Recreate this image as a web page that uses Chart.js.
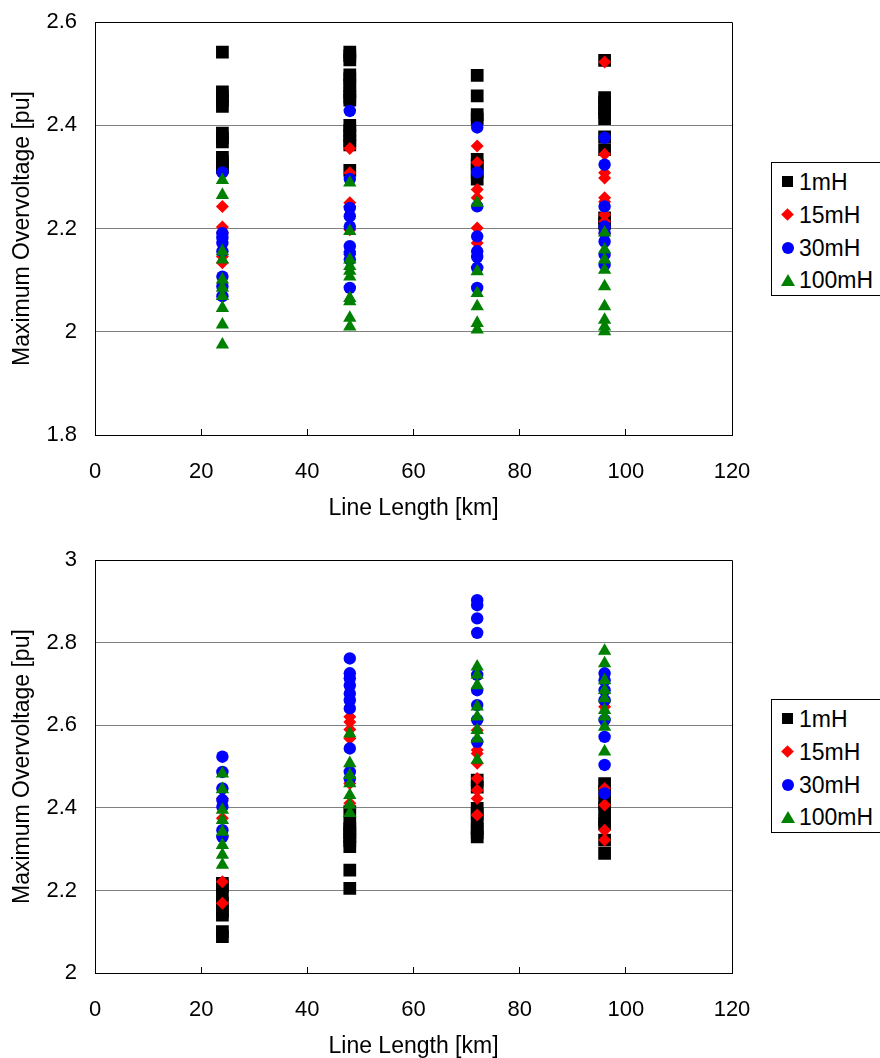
<!DOCTYPE html>
<html>
<head>
<meta charset="utf-8">
<script src="https://cdn.jsdelivr.net/npm/chart.js@4.4.1/dist/chart.umd.min.js"></script>
<style>
  html, body { margin: 0; padding: 0; background: #fff; }
  body { width: 880px; height: 1058px; position: relative; overflow: hidden; font-family: 'Liberation Sans', Arial, sans-serif; }
  .panel { position: absolute; left: 0; width: 880px; height: 531px; }
  .legend { position: absolute; left: 771px; width: 120px; height: 134px; border: 1px solid #000; background: #fff; box-sizing: border-box; }
  .legend .item { position: absolute; left: 0; height: 26px; line-height: 26px; font-size: 23px; color: #000; }
  .legend .item span.txt { position: absolute; left: 27px; top: 0; white-space: nowrap; }
  .mk { position: absolute; }
  .mk.sq { left: 10px; top: 7px; width: 11px; height: 11px; background: #000; }
  .mk.di { left: 11px; top: 8px; width: 9px; height: 9px; background: #f00; transform: rotate(45deg); }
  .mk.ci { left: 10px; top: 7px; width: 12px; height: 12px; background: #00f; border-radius: 50%; }
  .mk.tr { left: 9px; top: 7px; width: 0; height: 0; border-left: 7px solid transparent; border-right: 7px solid transparent; border-bottom: 12px solid #008000; }
</style>
</head>
<body>
<div class="panel" style="top:-9px"><canvas id="topChart" width="880" height="531"></canvas></div>
<div class="panel" style="top:529px"><canvas id="bottomChart" width="880" height="531"></canvas></div>
<div class="legend" id="legendTop" style="top:162px"></div>
<div class="legend" id="legendBottom" style="top:699px"></div>
<script>
// Line lengths where each run was done [km]
const lengths = [24, 48, 72, 96];
const seriesNames = ['1mH', '15mH', '30mH', '100mH'];
const xTicks = [0, 20, 40, 60, 80, 100, 120];
const topYTicks = [1.8, 2.0, 2.2, 2.4, 2.6];
const bottomYTicks = [2.0, 2.2, 2.4, 2.6, 2.8, 3.0];

// Upper chart: max overvoltage per line length (one inner list per length)
const top1mH = [
  [2.542, 2.465, 2.457, 2.448, 2.437, 2.385, 2.376, 2.368, 2.338, 2.330, 2.322, 2.318],
  [2.542, 2.535, 2.527, 2.498, 2.490, 2.477, 2.465, 2.455, 2.449, 2.400, 2.390, 2.380, 2.370, 2.362, 2.313],
  [2.497, 2.457, 2.421, 2.412, 2.334, 2.322, 2.310, 2.296],
  [2.526, 2.454, 2.445, 2.435, 2.425, 2.413, 2.378, 2.353, 2.221, 2.210]
];
const top15mH = [
  [2.243, 2.203, 2.192, 2.146, 2.134],
  [2.355, 2.308, 2.250, 2.243, 2.198, 2.150],
  [2.360, 2.328, 2.276, 2.260, 2.201, 2.172, 2.124],
  [2.523, 2.344, 2.308, 2.298, 2.260, 2.252, 2.227, 2.214, 2.190]
];
const top30mH = [
  [2.309, 2.191, 2.182, 2.172, 2.156, 2.107, 2.088, 2.069],
  [2.428, 2.296, 2.240, 2.224, 2.204, 2.166, 2.153, 2.140, 2.085],
  [2.396, 2.309, 2.243, 2.185, 2.156, 2.145, 2.124, 2.085],
  [2.376, 2.324, 2.243, 2.204, 2.192, 2.175, 2.150, 2.130]
];
const top100mH = [
  [2.294, 2.265, 2.156, 2.140, 2.101, 2.085, 2.069, 2.046, 2.014, 1.975],
  [2.289, 2.195, 2.140, 2.127, 2.118, 2.107, 2.065, 2.059, 2.027, 2.010],
  [2.250, 2.117, 2.075, 2.049, 2.017, 2.004],
  [2.192, 2.159, 2.140, 2.120, 2.088, 2.049, 2.023, 2.010, 2.001]
];

// Lower chart
const bottom1mH = [
  [2.217, 2.210, 2.190, 2.169, 2.150, 2.140, 2.100, 2.088],
  [2.391, 2.360, 2.350, 2.340, 2.330, 2.320, 2.306, 2.249, 2.205],
  [2.467, 2.450, 2.399, 2.385, 2.370, 2.350, 2.340, 2.330],
  [2.459, 2.440, 2.411, 2.399, 2.370, 2.362, 2.322, 2.290]
];
const bottom15mH = [
  [2.423, 2.375, 2.330, 2.221, 2.169],
  [2.621, 2.608, 2.590, 2.568, 2.459, 2.411],
  [2.588, 2.560, 2.540, 2.532, 2.508, 2.471, 2.443, 2.423, 2.383],
  [2.660, 2.645, 2.447, 2.407, 2.346, 2.322]
];
const bottom30mH = [
  [2.524, 2.487, 2.447, 2.419, 2.403, 2.346, 2.330],
  [2.762, 2.726, 2.714, 2.697, 2.677, 2.661, 2.641, 2.544, 2.487, 2.470],
  [2.903, 2.891, 2.859, 2.824, 2.722, 2.685, 2.649, 2.613, 2.560],
  [2.726, 2.709, 2.685, 2.661, 2.613, 2.572, 2.504, 2.435]
];
const bottom100mH = [
  [2.483, 2.445, 2.395, 2.370, 2.342, 2.310, 2.286, 2.262],
  [2.580, 2.508, 2.479, 2.459, 2.431, 2.407, 2.387],
  [2.742, 2.722, 2.697, 2.645, 2.621, 2.588, 2.568, 2.516],
  [2.780, 2.750, 2.709, 2.685, 2.665, 2.637, 2.621, 2.596, 2.536]
];

const FONT = "'Liberation Sans', Arial, sans-serif";

// marker style for each series (Excel-like)
const markers = [
  { color: '#000000', style: 'rect', radius: 9, order: 3 },
  { color: '#ff0000', style: 'rectRot', radius: 6.5, order: 2 },
  { color: '#0000ff', style: 'circle', radius: 6.2, order: 1 },
  { color: '#008000', style: 'triangle', radius: 7.7, order: 0 }
];

// flatten [length][values] into {x, y} points
const toPoints = (groups) => {
  const pts = [];
  groups.forEach((vals, i) => vals.forEach(v => pts.push({ x: lengths[i], y: v })));
  return pts;
};

const buildDatasets = (groups) => groups.map((g, i) => ({
  label: seriesNames[i],
  data: toPoints(g),
  showLine: false,
  order: markers[i].order,
  pointStyle: markers[i].style,
  pointRadius: markers[i].radius,
  pointBackgroundColor: markers[i].color,
  pointBorderColor: markers[i].color,
  pointBorderWidth: 0
}));

// frame round the plot area (top and right side)
const frame = {
  id: 'frame',
  beforeDatasetsDraw(chart) {
    const a = chart.chartArea;
    const ctx = chart.ctx;
    ctx.save();
    ctx.strokeStyle = '#000';
    ctx.lineWidth = 1;
    ctx.beginPath();
    ctx.moveTo(Math.round(a.left) + 0.5, Math.round(a.top) + 0.5);
    ctx.lineTo(Math.round(a.right) + 0.5, Math.round(a.top) + 0.5);
    ctx.lineTo(Math.round(a.right) + 0.5, Math.round(a.bottom) + 0.5);
    ctx.stroke();
    ctx.restore();
  }
};

const PAD_TOP = 31;
const CANVAS_H = 531;

const makeChart = (id, groups, yTicks) => {
  const yMin = yTicks[0];
  const yMax = yTicks[yTicks.length - 1];
  return new Chart(document.getElementById(id), {
    type: 'scatter',
    data: { datasets: buildDatasets(groups) },
    plugins: [frame],
    options: {
      responsive: false,
      animation: false,
      devicePixelRatio: 1,
      events: [],
      layout: { padding: { top: PAD_TOP, right: 148, left: 0, bottom: 0 } },
      plugins: { legend: { display: false }, tooltip: { enabled: false } },
      scales: {
        x: {
          type: 'linear',
          min: xTicks[0],
          max: xTicks[xTicks.length - 1],
          afterBuildTicks: (s) => { s.ticks = xTicks.map(v => ({ value: v })); },
          afterFit: (s) => { s.height = CANVAS_H - PAD_TOP - 413; },
          grid: { drawOnChartArea: false, drawTicks: true, tickLength: -6, color: '#000' },
          border: { color: '#000', width: 1 },
          ticks: { color: '#000', padding: 30, maxRotation: 0, font: { family: FONT, size: 22 } },
          title: { display: true, text: 'Line Length [km]', color: '#000', padding: { top: 0, bottom: 0 }, font: { family: FONT, size: 23 } }
        },
        y: {
          type: 'linear',
          min: yMin,
          max: yMax,
          afterBuildTicks: (s) => { s.ticks = yTicks.map(v => ({ value: v })); },
          afterFit: (s) => { s.width = 95; },
          grid: { color: '#808080', drawTicks: false },
          border: { color: '#000', width: 1 },
          ticks: {
            color: '#000',
            padding: 18,
            font: { family: FONT, size: 22 },
            callback: (v) => String(Math.round(v * 10) / 10)
          },
          title: { display: true, text: 'Maximum Overvoltage [pu]', color: '#000', padding: { top: 9, bottom: 0 }, font: { family: FONT, size: 23 } }
        }
      }
    }
  });
};

// 1. Upper chart
makeChart('topChart', [top1mH, top15mH, top30mH, top100mH], topYTicks);
// 2. Lower chart
makeChart('bottomChart', [bottom1mH, bottom15mH, bottom30mH, bottom100mH], bottomYTicks);

// 3. Legends (html)
const markerClass = ['sq', 'di', 'ci', 'tr'];
const rowTops = [6, 39, 72, 104];
['legendTop', 'legendBottom'].forEach(id => {
  const box = document.getElementById(id);
  seriesNames.forEach((name, i) => {
    const row = document.createElement('div');
    row.className = 'item';
    row.style.top = rowTops[i] + 'px';
    row.innerHTML = '<div class="mk ' + markerClass[i] + '"></div><span class="txt">' + name + '</span>';
    box.appendChild(row);
  });
});
</script>
</body>
</html>
